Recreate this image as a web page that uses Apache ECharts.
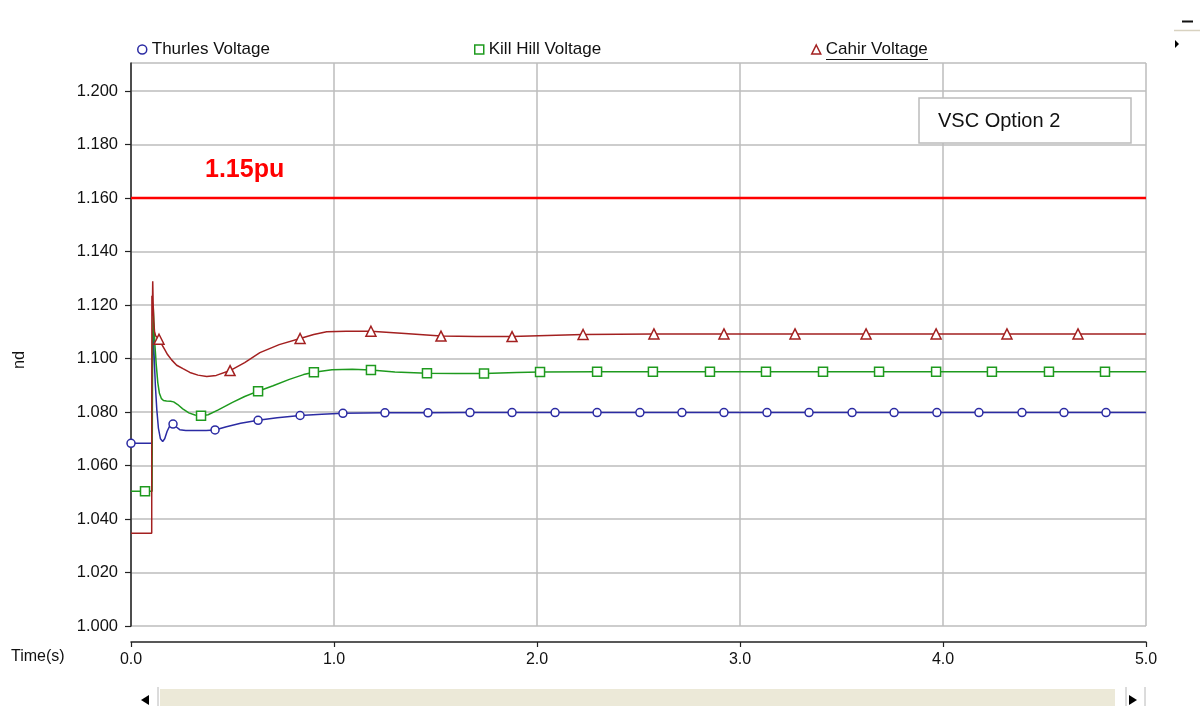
<!DOCTYPE html>
<html>
<head>
<meta charset="utf-8">
<title>VSC Option 2 - Voltage</title>
<script src="https://cdn.jsdelivr.net/npm/echarts@6/dist/echarts.min.js"></script>
<style>
  html, body { margin: 0; padding: 0; background: #ffffff; }
  #chart { width: 1200px; height: 706px; }
</style>
</head>
<body>
<div id="chart"></div>
<script>
// Bus voltages (pu) against time (s)
const thurlesT = [0, 0.103, 0.105, 0.108, 0.111, 0.115, 0.120, 0.127, 0.135, 0.145, 0.156, 0.166, 0.178, 0.192, 0.207, 0.222, 0.240, 0.270, 0.320, 0.370, 0.414, 0.470, 0.540, 0.626, 0.720, 0.833, 0.940, 1.044, 1.251, 1.463, 1.670, 1.877, 2.089, 2.296, 2.507, 2.714, 2.921, 3.133, 3.340, 3.552, 3.759, 3.970, 4.177, 4.389, 4.596, 4.803, 5.0];
const thurlesV = [1.0683, 1.0683, 1.095, 1.1108, 1.107, 1.099, 1.090, 1.081, 1.074, 1.0700, 1.0690, 1.0700, 1.0728, 1.0750, 1.0755, 1.0745, 1.0734, 1.0731, 1.0731, 1.0731, 1.0733, 1.0745, 1.0758, 1.0769, 1.0779, 1.0787, 1.0792, 1.0795, 1.0797, 1.0797, 1.0798, 1.0798, 1.0798, 1.0798, 1.0798, 1.0798, 1.0798, 1.0798, 1.0798, 1.0798, 1.0798, 1.0798, 1.0798, 1.0798, 1.0798, 1.0798, 1.0798];
const thurlesMarks = [0, 0.207, 0.414, 0.626, 0.833, 1.044, 1.251, 1.463, 1.670, 1.877, 2.089, 2.296, 2.507, 2.714, 2.921, 3.133, 3.340, 3.552, 3.759, 3.970, 4.177, 4.389, 4.596, 4.803];

const killHillT = [0, 0.069, 0.104, 0.106, 0.109, 0.112, 0.117, 0.124, 0.132, 0.140, 0.150, 0.160, 0.175, 0.195, 0.210, 0.230, 0.255, 0.285, 0.315, 0.345, 0.380, 0.430, 0.500, 0.560, 0.626, 0.700, 0.780, 0.850, 0.901, 0.990, 1.090, 1.182, 1.300, 1.458, 1.600, 1.739, 1.900, 2.015, 2.296, 2.571, 2.852, 3.128, 3.409, 3.685, 3.966, 4.241, 4.522, 4.798, 5.0];
const killHillV = [1.0504, 1.0504, 1.0504, 1.100, 1.1201, 1.115, 1.106, 1.098, 1.091, 1.0870, 1.0850, 1.0843, 1.0841, 1.0840, 1.0838, 1.0828, 1.0812, 1.0797, 1.0789, 1.0786, 1.0790, 1.0808, 1.0836, 1.0858, 1.0878, 1.0898, 1.0922, 1.0940, 1.0949, 1.0958, 1.0960, 1.0957, 1.0950, 1.0945, 1.0944, 1.0944, 1.0948, 1.0950, 1.0951, 1.0951, 1.0951, 1.0951, 1.0951, 1.0951, 1.0951, 1.0951, 1.0951, 1.0951, 1.0951];
const killHillMarks = [0.069, 0.345, 0.626, 0.901, 1.182, 1.458, 1.739, 2.015, 2.296, 2.571, 2.852, 3.128, 3.409, 3.685, 3.966, 4.241, 4.522, 4.798];

const cahirT = [0, 0.102, 0.103, 0.105, 0.107, 0.109, 0.112, 0.116, 0.121, 0.128, 0.138, 0.150, 0.165, 0.180, 0.200, 0.225, 0.256, 0.290, 0.330, 0.373, 0.420, 0.488, 0.560, 0.635, 0.730, 0.833, 0.900, 0.964, 1.060, 1.182, 1.350, 1.527, 1.700, 1.877, 2.050, 2.227, 2.576, 2.921, 3.271, 3.621, 3.966, 4.315, 4.665, 5.0];
const cahirV = [1.0347, 1.0347, 1.1235, 1.116, 1.1289, 1.121, 1.114, 1.110, 1.1085, 1.108, 1.1072, 1.1055, 1.1035, 1.1015, 1.0995, 1.0975, 1.0962, 1.0948, 1.0938, 1.0933, 1.0937, 1.0955, 1.0985, 1.1022, 1.1052, 1.1075, 1.1090, 1.1100, 1.1102, 1.1102, 1.1094, 1.1084, 1.1082, 1.1082, 1.1086, 1.1090, 1.1092, 1.1092, 1.1092, 1.1092, 1.1092, 1.1092, 1.1092, 1.1092];
const cahirMarks = [0.138, 0.488, 0.833, 1.182, 1.527, 1.877, 2.227, 2.576, 2.921, 3.271, 3.621, 3.966, 4.315, 4.665];

// Over-voltage limit line
const limitT = [0, 5];
const limitV = [1.16, 1.16];
const limitLabel = '1.15pu';

const seriesNames = ['Thurles Voltage', 'Kill Hill Voltage', 'Cahir Voltage'];
const caseTitle = 'VSC Option 2';

const FONT = '"Liberation Sans", Arial, sans-serif';
const BLUE = '#2b2ba3', GREEN = '#1e9a1e', RED = '#a32020';

function buildData(ts, vs, marks, symbol) {
  return ts.map((t, i) => ({
    value: [t, vs[i]],
    symbol: marks.includes(t) ? symbol : 'none'
  }));
}

function curve(name, ts, vs, marks, symbol, color, size) {
  return {
    name: name,
    type: 'line',
    data: buildData(ts, vs, marks, symbol),
    showAllSymbol: true,
    symbolSize: size,
    lineStyle: { color: color, width: 1.5 },
    itemStyle: { color: '#ffffff', borderColor: color, borderWidth: 1.5 },
    emphasis: { disabled: true },
    animation: false,
    z: 3
  };
}

function legendFor(name, symbol, color, left) {
  return {
    left: left, top: 36,
    itemWidth: 9, itemHeight: 9,
    selectedMode: false,
    textStyle: { fontFamily: FONT, fontSize: 17, color: '#111' },
    data: [{ name: name, icon: symbol, itemStyle: { color: '#ffffff', borderColor: color, borderWidth: 1.5 } }]
  };
}

const chart = echarts.init(document.getElementById('chart'), null, { renderer: 'canvas' });

chart.setOption({
  backgroundColor: '#ffffff',
  animation: false,
  grid: { left: 131, right: 54, top: 63, bottom: 80, containLabel: false },
  legend: [
    legendFor(seriesNames[0], 'circle', BLUE, 132),
    legendFor(seriesNames[1], 'rect', GREEN, 469),
    legendFor(seriesNames[2], 'triangle', RED, 806)
  ],
  xAxis: {
    type: 'value', min: 0, max: 5, interval: 1,
    offset: 16,
    axisLine: { show: true, onZero: false, lineStyle: { color: '#222', width: 1.5 } },
    axisTick: { show: true, length: 5, lineStyle: { color: '#222', width: 1.2 } },
    axisLabel: { fontFamily: FONT, fontSize: 16, color: '#111', margin: 10, formatter: v => v.toFixed(1) },
    splitLine: { show: true, lineStyle: { color: '#bdbdbd', width: 1.5 } }
  },
  yAxis: {
    type: 'value', min: 1.0, max: 1.2105, interval: 0.02,
    axisLine: { show: true, onZero: false, lineStyle: { color: '#222', width: 1.5 } },
    axisTick: { show: true, length: 6, lineStyle: { color: '#222', width: 1.2 } },
    axisLabel: { fontFamily: FONT, fontSize: 16.5, color: '#111', margin: 13, showMaxLabel: false, formatter: v => v.toFixed(3) },
    splitLine: { show: true, lineStyle: { color: '#bdbdbd', width: 1.5 } }
  },
  series: [
    {
      name: 'limit', type: 'line',
      data: limitT.map((t, i) => [t, limitV[i]]),
      symbol: 'none', silent: true,
      lineStyle: { color: '#ff0000', width: 2.5 },
      z: 2
    },
    curve(seriesNames[0], thurlesT, thurlesV, thurlesMarks, 'circle', BLUE, 8),
    curve(seriesNames[1], killHillT, killHillV, killHillMarks, 'rect', GREEN, 9),
    curve(seriesNames[2], cahirT, cahirV, cahirMarks, 'triangle', RED, 10)
  ],
  graphic: [
    // limit label
    { type: 'text', left: 205, top: 158, z: 10,
      style: { text: limitLabel, fill: '#ff0000', font: 'bold 25px ' + FONT } },
    // case title box
    { type: 'rect', shape: { x: 919, y: 98, width: 212, height: 45 }, z: 10,
      style: { fill: '#ffffff', stroke: '#bcbcbc', lineWidth: 1.5 } },
    { type: 'text', x: 938, y: 121, z: 11,
      style: { text: caseTitle, fill: '#111', font: '20px ' + FONT, verticalAlign: 'middle' } },
    // axis names
    { type: 'text', x: 19, y: 360, rotation: -Math.PI / 2, z: 10,
      style: { text: 'pu', fill: '#111', font: '16px ' + FONT, align: 'center', verticalAlign: 'middle' } },
    { type: 'text', x: 11, y: 657, z: 10,
      style: { text: 'Time(s)', fill: '#111', font: '16px ' + FONT, verticalAlign: 'middle' } },
    // underline on the active legend entry
    { type: 'line', shape: { x1: 826, y1: 59.5, x2: 928, y2: 59.5 }, z: 10,
      style: { stroke: '#111', lineWidth: 1.2 } },
    // horizontal scroll bar
    { type: 'rect', shape: { x: 160, y: 689, width: 955, height: 17 }, z: 10,
      style: { fill: '#ece9d8' } },
    { type: 'line', shape: { x1: 158, y1: 687, x2: 158, y2: 706 }, z: 10,
      style: { stroke: '#b8b8b8', lineWidth: 1 } },
    { type: 'line', shape: { x1: 1126, y1: 687, x2: 1126, y2: 706 }, z: 10,
      style: { stroke: '#b8b8b8', lineWidth: 1 } },
    { type: 'line', shape: { x1: 1145, y1: 687, x2: 1145, y2: 706 }, z: 10,
      style: { stroke: '#b8b8b8', lineWidth: 1 } },
    { type: 'polygon', shape: { points: [[141, 700], [149, 695], [149, 705]] }, z: 10,
      style: { fill: '#000' } },
    { type: 'polygon', shape: { points: [[1137, 700], [1129, 695], [1129, 705]] }, z: 10,
      style: { fill: '#000' } },
    // panel controls, top right
    { type: 'line', shape: { x1: 1182, y1: 21.5, x2: 1193, y2: 21.5 }, z: 10,
      style: { stroke: '#111', lineWidth: 2 } },
    { type: 'line', shape: { x1: 1174, y1: 30.5, x2: 1200, y2: 30.5 }, z: 10,
      style: { stroke: '#d8d2c0', lineWidth: 1.5 } },
    { type: 'polygon', shape: { points: [[1175, 40], [1179, 44], [1175, 48]] }, z: 10,
      style: { fill: '#000' } }
  ]
});
</script>
</body>
</html>
